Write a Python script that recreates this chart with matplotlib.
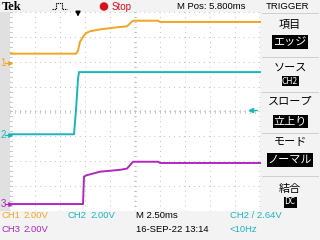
import matplotlib
matplotlib.use('Agg')
import matplotlib.pyplot as plt
from matplotlib.lines import Line2D
from matplotlib.patches import Rectangle, Ellipse

# ---------------- data ----------------
# time in ms from the left edge of the screen (2.50 ms/div, 10 div)
ch1_t = [0, 6.6, 6.8, 7.0, 7.3, 7.6, 8.0, 9.0, 10.5, 11.7, 12.3, 14.8, 15.0, 25]
ch1_v = [0.75, 0.75, 1.0, 1.7, 2.1, 2.4, 2.55, 2.7, 2.85, 2.95, 3.4, 3.4, 3.3, 3.3]

ch2_t = [0, 6.4, 6.6, 6.8, 6.9, 25]
ch2_v = [0.05, 0.05, 2.0, 4.5, 5.05, 5.05]

ch3_t = [0, 7.3, 7.4, 7.6, 9.0, 11.0, 11.7, 12.3, 14.8, 15.0, 25]
ch3_v = [0, 0, 2.2, 2.3, 2.6, 2.75, 2.85, 3.4, 3.4, 3.3, 3.3]

volts_per_div = [2.0, 2.0, 2.0]
trigger_time = 6.8
channel_labels = ["CH1", "CH2", "CH3"]
scale_labels = ["2.00V", "2.00V", "2.00V"]
timebase_label = "M 2.50ms"
mpos_label = "M Pos: 5.800ms"
date_label = "16-SEP-22 13:14"
trig_label = "CH2 / 2.64V"
freq_label = "<10Hz"
menu_titles = ["項目", "ソース", "スロープ", "モード", "結合"]
menu_values = ["エッジ", "CH2", "立上り", "ノーマル", "DC"]

# ---------------- style ----------------
C1, C2, C3 = '#f3a425', '#1bb5c1', '#b127c0'
offsets = [5.95, 3.06, 0.28]          # ground position (div from bottom)
W, H = 320, 240
def fx(x): return x / W
def fy(y): return 1 - y / H

TXT = ['Liberation Sans Narrow', 'Liberation Sans', 'DejaVu Sans']
JP = ['Noto Sans CJK JP', 'DejaVu Sans']

fig = plt.figure(figsize=(3.2, 2.4), dpi=100, facecolor='#f3f3f3')

# left strip
fig.patches.append(Rectangle((0, fy(211)), fx(10), 199 / H, transform=fig.transFigure,
                             facecolor='#e0e0e0', edgecolor='none', zorder=0))

ax = fig.add_axes([fx(10), fy(211), 250 / W, 199 / H])
ax.set_xlim(0, 25)
ax.set_ylim(0, 8)
ax.set_facecolor('white')
for s in ax.spines.values():
    s.set_visible(False)
ax.set_xticks([])
ax.set_yticks([])

gcol = '#c2c2c2'
dot = dict(color=gcol, lw=0.7, linestyle=(0, (1, 4.1)), zorder=1)
for i in range(0, 11):
    ax.axvline(i * 2.5, **dot)
for j in range(0, 9):
    ax.axhline(j, **dot)
# centre cross ticks and edge ticks
tk = dict(color=gcol, lw=0.6, zorder=1)
for k in range(0, 51):
    x = k * 0.5
    ax.plot([x, x], [4 - 0.05, 4 + 0.05], **tk)
for k in range(0, 41):
    y = k * 0.2
    ax.plot([12.5 - 0.12, 12.5 + 0.12], [y, y], **tk)
    ax.plot([0, 0.15], [y, y], **tk)
    ax.plot([25 - 0.15, 25], [y, y], **tk)

# traces
for t, v, c, off, vd in [(ch1_t, ch1_v, C1, offsets[0], volts_per_div[0]),
                         (ch2_t, ch2_v, C2, offsets[1], volts_per_div[1]),
                         (ch3_t, ch3_v, C3, offsets[2], volts_per_div[2])]:
    ax.plot(t, [off + vv / vd for vv in v], color=c, lw=1.4, zorder=3,
            solid_joinstyle='round', clip_on=False)

# trigger position arrow (top)
ax.annotate('', xy=(trigger_time, 7.7), xytext=(trigger_time, 8.1),
            arrowprops=dict(arrowstyle='-|>', color='black', lw=1.0, mutation_scale=7),
            annotation_clip=False)

# ground markers on the left
for lab, c, off in zip(['1', '2', '3'], [C1, C2, C3], offsets):
    yy = 211 - off * 24.875
    fig.text(fx(0.3), fy(yy), lab, color=c, fontsize=7, ha='left', va='center', family=TXT)
    fig.lines.append(Line2D([fx(5), fx(9.5)], [fy(yy), fy(yy)], transform=fig.transFigure,
                            color=c, lw=0.9, marker='>', markevery=[1], markersize=2.5))

# trigger level arrow (right)
fig.lines.append(Line2D([fx(251), fx(257)], [fy(110), fy(110)], transform=fig.transFigure,
                        color=C2, lw=0.9, marker='<', markevery=[0], markersize=3))

# ---------------- top bar ----------------
fig.text(fx(1.5), fy(7), 'Tek', fontsize=9, weight='bold', family=['Liberation Serif', 'DejaVu Serif'],
         ha='left', va='center')
fig.lines.append(Line2D([fx(52), fx(56), fx(56), fx(62), fx(62), fx(67)],
                        [fy(9), fy(9), fy(2.5), fy(2.5), fy(9), fy(9)],
                        transform=fig.transFigure, color='black', lw=0.8, linestyle=(0, (1.2, 0.8))))
fig.patches.append(Ellipse((fx(104), fy(6.5)), 8.5 / W, 8.5 / H, transform=fig.transFigure,
                           facecolor='#d8101a', edgecolor='none'))
fig.text(fx(112), fy(6.5), 'Stop', color='#d8101a', fontsize=7, ha='left', va='center', family=TXT)
fig.text(fx(211), fy(6.5), mpos_label, fontsize=6.8, ha='center', va='center', family=TXT)
fig.text(fx(288), fy(6.5), 'TRIGGER', fontsize=6.8, ha='center', va='center', family=TXT)
fig.lines.append(Line2D([fx(262), fx(318)], [fy(13), fy(13)], transform=fig.transFigure,
                        color='#c8c8c8', lw=0.6))

# ---------------- right menu ----------------
title_y = [25, 68, 102, 142, 189]
box_y = [42, 81, 121, 160, 202]
box_w = [36, 17, 35, 46, 13]
box_h = [13, 10, 13, 14, 11]
sep_y = [57, 92, 133, 176]
for s in sep_y:
    fig.lines.append(Line2D([fx(262), fx(318)], [fy(s), fy(s)], transform=fig.transFigure,
                            color='#c8c8c8', lw=0.6))
for ttl, val, ty, by, bw, bh in zip(menu_titles, menu_values, title_y, box_y, box_w, box_h):
    fig.text(fx(290), fy(ty), ttl, fontsize=8, ha='center', va='center', family=JP)
    fig.patches.append(Rectangle((fx(290 - bw / 2), fy(by + bh / 2)), bw / W, bh / H,
                                 transform=fig.transFigure, facecolor='black', edgecolor='none'))
    fs = 6 if val in ('CH2', 'DC') else 8
    fig.text(fx(290), fy(by), val, fontsize=fs, color='white', ha='center', va='center',
             family=JP)

# ---------------- bottom status ----------------
r1, r2 = 216, 230
fs = 6.8
fig.text(fx(1), fy(r1), channel_labels[0], color=C1, fontsize=fs, ha='left', va='center', family=TXT)
fig.text(fx(23), fy(r1), scale_labels[0], color=C1, fontsize=fs, ha='left', va='center', family=TXT)
fig.text(fx(67), fy(r1), channel_labels[1], color=C2, fontsize=fs, ha='left', va='center', family=TXT)
fig.text(fx(90), fy(r1), scale_labels[1], color=C2, fontsize=fs, ha='left', va='center', family=TXT)
fig.text(fx(1), fy(r2), channel_labels[2], color=C3, fontsize=fs, ha='left', va='center', family=TXT)
fig.text(fx(23), fy(r2), scale_labels[2], color=C3, fontsize=fs, ha='left', va='center', family=TXT)
fig.text(fx(136), fy(r1), timebase_label, color='black', fontsize=fs, ha='left', va='center', family=TXT)
fig.text(fx(136), fy(r2), date_label, color='black', fontsize=fs, ha='left', va='center', family=TXT)
fig.text(fx(230), fy(r1), trig_label, color=C2, fontsize=fs, ha='left', va='center', family=TXT)
fig.text(fx(230), fy(r2), freq_label, color=C2, fontsize=fs, ha='left', va='center', family=TXT)

fig.savefig('out.png', dpi=100, facecolor=fig.get_facecolor())
